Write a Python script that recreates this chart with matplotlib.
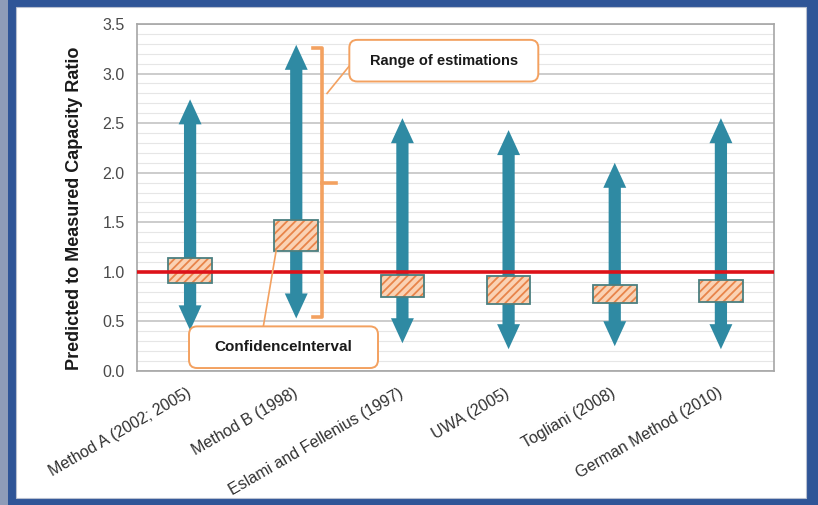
import numpy as np
import matplotlib
matplotlib.use('Agg')
import matplotlib.pyplot as plt
from matplotlib.patches import Rectangle, FancyBboxPatch
from matplotlib.transforms import IdentityTransform
from matplotlib.ticker import MultipleLocator

plt.rcParams['font.family'] = ['Liberation Sans', 'DejaVu Sans']
plt.rcParams['hatch.linewidth'] = 1.3

# values
methods = ['Method A (2002; 2005)', 'Method B (1998)', 'Eslami and Fellenius (1997)',
           'UWA (2005)', 'Togliani (2008)', 'German Method (2010)']
range_hi = [2.74, 3.29, 2.55, 2.43, 2.10, 2.55]
range_lo = [0.41, 0.53, 0.28, 0.22, 0.25, 0.22]
ci_hi = [1.14, 1.52, 0.97, 0.96, 0.87, 0.92]
ci_lo = [0.89, 1.21, 0.75, 0.68, 0.69, 0.70]

W, H = 818, 505
fig = plt.figure(figsize=(W / 100, H / 100), dpi=100)
fig.patch.set_facecolor('#2F5597')
# white panel inside the blue frame
fig.patches.append(Rectangle((16 / W, 7 / H), 790 / W, 491 / H, transform=fig.transFigure,
                             facecolor='white', edgecolor='#B8C0D0', lw=0.8, zorder=-2))
fig.patches.append(Rectangle((0, 0), 8 / W, 1, transform=fig.transFigure,
                             facecolor='#8E9CB8', edgecolor='none', zorder=-2))

ax = fig.add_axes([137 / W, 134 / H, 637 / W, 347 / H])
ax.set_xlim(-0.5, len(methods) - 0.5)
ax.set_ylim(0, 3.5)

ax.yaxis.set_major_locator(MultipleLocator(0.5))
ax.yaxis.set_minor_locator(MultipleLocator(0.1))
ax.grid(axis='y', which='major', color='#C4C4C4', lw=1.2, zorder=0)
ax.grid(axis='y', which='minor', color='#E6E6E6', lw=0.8, zorder=0)
ax.set_axisbelow(True)
ax.tick_params(axis='y', which='both', length=0, labelsize=11.5, labelcolor='#4A4A4A', pad=9)
ax.tick_params(axis='y', which='minor', labelleft=False)
ax.set_yticks(np.arange(0, 3.51, 0.5))
ax.set_yticklabels(['{:.1f}'.format(v) for v in np.arange(0, 3.51, 0.5)])
for s in ax.spines.values():
    s.set_color('#A6A6A6')
    s.set_linewidth(1.2)

x = np.arange(len(methods))
ax.set_xticks(x)
ax.set_xticklabels(methods, rotation=30, ha='right', va='center', rotation_mode='anchor',
                   fontsize=11.5, color='#303030')
ax.tick_params(axis='x', length=0, pad=15)

ax.set_ylabel('Predicted to Measured Capacity Ratio', fontsize=13, fontweight='bold',
              color='#1A1A1A')
ax.yaxis.set_label_coords(-0.085, 0.47)

# arrows for the range of estimations
teal = '#2F8AA3'
for i in range(len(methods)):
    mid = (ci_hi[i] + ci_lo[i]) / 2
    for tip in (range_hi[i], range_lo[i]):
        ax.annotate('', xy=(x[i], tip), xytext=(x[i], mid),
                    arrowprops=dict(width=8.8, headwidth=16.5, headlength=18, shrink=0,
                                    facecolor=teal, edgecolor='none'), zorder=2)

# confidence interval boxes
ci_h = [h - l for h, l in zip(ci_hi, ci_lo)]
ax.bar(x, ci_h, bottom=ci_lo, width=0.41, color='#FAD2B4', hatch='////',
       edgecolor='#E8844A', lw=0, zorder=3)
ax.bar(x, ci_h, bottom=ci_lo, width=0.41, fill=False, edgecolor='#4B7F80', lw=1.3, zorder=4)

ax.axhline(1.0, color='#DD1219', lw=2.6, zorder=5)

# bracket and callouts
orange = '#F3A160'
ax.plot([1.16, 1.245, 1.245, 1.16], [3.26, 3.26, 0.545, 0.545], color=orange, lw=2.6,
        solid_joinstyle='round', zorder=5, clip_on=False)
ax.plot([1.245, 1.37], [1.9, 1.9], color=orange, lw=2.6, zorder=5)
ax.plot([1.29, 1.51], [2.8, 3.09], color=orange, lw=1.2, zorder=5)
ax.plot([0.69, 0.81], [0.45, 1.21], color=orange, lw=1.2, zorder=5)

fig.canvas.draw()


def callout(x0, y0, x1, y1, text, size):
    (px0, py0), (px1, py1) = ax.transData.transform([(x0, y0), (x1, y1)])
    fig.patches.append(FancyBboxPatch((px0, py0), px1 - px0, py1 - py0,
                                      boxstyle='round,pad=0,rounding_size=8',
                                      transform=IdentityTransform(), facecolor='white',
                                      edgecolor=orange, lw=1.4, zorder=6))
    fig.text((px0 + px1) / 2 / W, (py0 + py1) / 2 / H, text, ha='center', va='center',
             fontsize=size, fontweight='bold', color='#1A1A1A', zorder=7)


callout(1.5, 2.92, 3.28, 3.34, 'Range of estimations', 10.5)
callout(-0.01, 0.03, 1.77, 0.45, 'ConfidenceInterval', 11)

fig.savefig('out.png', dpi=100, facecolor=fig.get_facecolor())
